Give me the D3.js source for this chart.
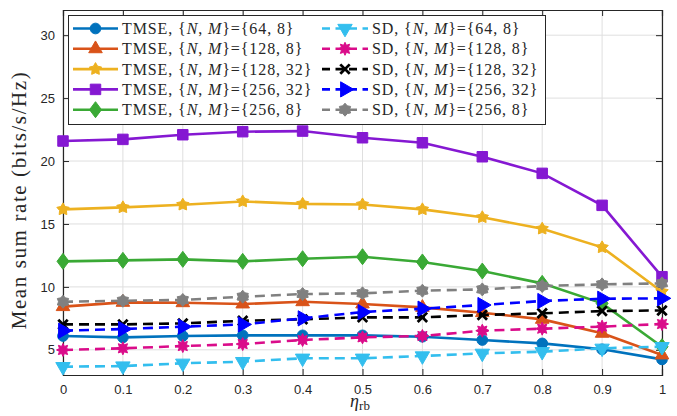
<!DOCTYPE html>
<html>
<head>
<meta charset="utf-8">
<script src="https://cdn.jsdelivr.net/npm/d3@7"></script>
<style>
  body { margin: 0; background: #fff; }
  text { fill: #262626; }
</style>
</head>
<body>
<svg id="chart" width="677" height="416"></svg>
<script>
// x values (eta_rb)
var eta = [0, 0.1, 0.2, 0.3, 0.4, 0.5, 0.6, 0.7, 0.8, 0.9, 1];
var xTicks = [0, 0.1, 0.2, 0.3, 0.4, 0.5, 0.6, 0.7, 0.8, 0.9, 1];
var yTicks = [5, 10, 15, 20, 25, 30];

// series values
var tmse64_8   = [6.10, 5.99, 6.10, 6.15, 6.15, 6.15, 6.04, 5.78, 5.51, 5.04, 4.24];
var tmse128_8  = [8.43, 8.77, 8.74, 8.64, 8.82, 8.64, 8.37, 7.95, 7.42, 6.31, 4.59];
var tmse128_32 = [16.16, 16.32, 16.53, 16.79, 16.60, 16.55, 16.16, 15.53, 14.62, 13.14, 9.62];
var tmse256_32 = [21.59, 21.72, 22.09, 22.33, 22.38, 21.85, 21.45, 20.34, 19.02, 16.48, 10.81];
var tmse256_8  = [12.03, 12.11, 12.19, 12.03, 12.24, 12.40, 11.98, 11.26, 10.28, 8.69, 5.25];
var sd64_8     = [3.66, 3.71, 3.93, 4.06, 4.33, 4.33, 4.51, 4.72, 4.85, 5.12, 5.25];
var sd128_8    = [4.99, 5.12, 5.30, 5.46, 5.78, 5.99, 6.10, 6.52, 6.68, 6.84, 7.05];
var sd128_32   = [7.02, 7.02, 7.10, 7.31, 7.42, 7.58, 7.58, 7.77, 7.90, 8.08, 8.13];
var sd256_32   = [6.52, 6.65, 6.84, 7.02, 7.50, 8.00, 8.27, 8.56, 8.88, 9.06, 9.09];
var sd256_8    = [8.82, 8.90, 8.96, 9.22, 9.43, 9.49, 9.70, 9.80, 10.07, 10.20, 10.28];

var series = [
  { name: "TMSE", nm: "64, 8",   vals: tmse64_8,   color: "#0072BD", dash: null, mk: "circle" },
  { name: "TMSE", nm: "128, 8",  vals: tmse128_8,  color: "#D95319", dash: null, mk: "triUp" },
  { name: "TMSE", nm: "128, 32", vals: tmse128_32, color: "#EDB120", dash: null, mk: "star" },
  { name: "TMSE", nm: "256, 32", vals: tmse256_32, color: "#8518D2", dash: null, mk: "square" },
  { name: "TMSE", nm: "256, 8",  vals: tmse256_8,  color: "#3AA935", dash: null, mk: "diamond" },
  { name: "SD", nm: "64, 8",   vals: sd64_8,   color: "#33BEEE", dash: "10,6", mk: "triDown" },
  { name: "SD", nm: "128, 8",  vals: sd128_8,  color: "#DA0C8A", dash: "10,6", mk: "flower" },
  { name: "SD", nm: "128, 32", vals: sd128_32, color: "#000000", dash: "10,6", mk: "times" },
  { name: "SD", nm: "256, 32", vals: sd256_32, color: "#0000FF", dash: "10,6", mk: "triRight" },
  { name: "SD", nm: "256, 8",  vals: sd256_8,  color: "#808080", dash: "10,6", mk: "hexagram" }
];

var margin = { top: 10, right: 15, bottom: 41, left: 63 };
var width = 677 - margin.left - margin.right,
    height = 416 - margin.top - margin.bottom;

var svg = d3.select("#chart");
var g = svg.append("g").attr("transform", "translate(" + margin.left + "," + margin.top + ")");

var x = d3.scaleLinear().domain([0, 1]).range([0, width]);
var y = d3.scaleLinear().domain([3, 32]).range([height, 0]);

// grid
g.append("g").selectAll("line").data(xTicks).enter().append("line")
  .attr("x1", d => x(d)).attr("x2", d => x(d)).attr("y1", 0).attr("y2", height)
  .style("stroke", "#dfdfdf").style("stroke-width", 1);
g.append("g").selectAll("line").data(yTicks).enter().append("line")
  .attr("y1", d => y(d)).attr("y2", d => y(d)).attr("x1", 0).attr("x2", width)
  .style("stroke", "#dfdfdf").style("stroke-width", 1);

// axes
var xAxis = g.append("g").attr("transform", "translate(0," + height + ")")
  .call(d3.axisBottom(x).tickValues(xTicks).tickSize(-6).tickPadding(10).tickFormat(d => d === 0 || d === 1 ? d : d.toFixed(1)));
var yAxis = g.append("g")
  .call(d3.axisLeft(y).tickValues(yTicks).tickSize(-6).tickPadding(8));
var xTop = g.append("g").call(d3.axisTop(x).tickValues(xTicks).tickSize(-6).tickFormat(""));
var yRight = g.append("g").attr("transform", "translate(" + width + ",0)")
  .call(d3.axisRight(y).tickValues(yTicks).tickSize(-6).tickFormat(""));
[xAxis, yAxis, xTop, yRight].forEach(a => {
  a.select(".domain").style("stroke", "#262626").style("stroke-width", 1.2);
  a.selectAll(".tick line").style("stroke", "#262626");
  a.selectAll("text").style("font-family", "Liberation Sans, Arial, sans-serif")
    .style("font-size", "13px").style("fill", "#262626");
});

// marker shapes
function starPath(n, ro, ri) {
  var p = "";
  for (var k = 0; k < 2 * n; k++) {
    var a = k * Math.PI / n - Math.PI / 2, r = (k % 2 === 0) ? ro : ri;
    p += (k === 0 ? "M" : "L") + (r * Math.cos(a)).toFixed(2) + "," + (r * Math.sin(a)).toFixed(2);
  }
  return p + "Z";
}
function markerPath(type) {
  switch (type) {
    case "circle": return d3.symbol(d3.symbolCircle, 90)();
    case "triUp": return d3.symbol(d3.symbolTriangle, 80)();
    case "triDown": return d3.symbol(d3.symbolTriangle, 90)();
    case "triRight": return d3.symbol(d3.symbolTriangle, 100)();
    case "star": return starPath(5, 6.5, 3.6);
    case "square": return d3.symbol(d3.symbolSquare, 110)();
    case "diamond": return "M0,-8L6,0L0,8L-6,0Z";
    case "times": return d3.symbol(d3.symbolTimes, 60)();
    case "flower": return starPath(8, 6.5, 3.8);
    case "hexagram": return starPath(6, 6.5, 4.5);
  }
}
function markerRot(type) {
  if (type === "triDown") return " rotate(180)";
  if (type === "triRight") return " rotate(90)";
  return "";
}
function drawMarker(sel, s, cx, cy) {
  var m = sel.append("path")
    .attr("d", markerPath(s.mk))
    .attr("transform", "translate(" + cx + "," + cy + ")" + markerRot(s.mk));
  if (s.mk === "times") {
    m.style("fill", "none").style("stroke", s.color).style("stroke-width", 2.8);
  } else {
    m.style("fill", s.color).style("stroke", s.color).style("stroke-width", 1);
  }
}

var line = d3.line().x((d, i) => x(eta[i])).y(d => y(d));

series.forEach(function (s) {
  var sg = g.append("g");
  sg.append("path").datum(s.vals)
    .attr("d", line)
    .style("fill", "none")
    .style("stroke", s.color)
    .style("stroke-width", 2.6)
    .style("stroke-dasharray", s.dash);
  s.vals.forEach((v, i) => drawMarker(sg, s, x(eta[i]), y(v)));
});

// legend
var lg = svg.append("g");
lg.append("rect").attr("x", 68.5).attr("y", 15.5).attr("width", 477).attr("height", 109)
  .style("fill", "#fff").style("stroke", "#262626").style("stroke-width", 1);
var rowY = [28.5, 48.8, 69.1, 89.4, 109.7];
series.forEach(function (s, i) {
  var col = i < 5 ? 0 : 1, r = i % 5;
  var cy = rowY[r];
  var x0 = col === 0 ? 73 : 322, x1 = col === 0 ? 118 : 368;
  lg.append("line").attr("x1", x0).attr("x2", x1).attr("y1", cy).attr("y2", cy)
    .style("stroke", s.color).style("stroke-width", 2.6)
    .style("stroke-dasharray", s.dash ? "8,5.5" : null);
  drawMarker(lg, s, (x0 + x1) / 2, cy);
  var t = lg.append("text").attr("x", x1 + 4).attr("y", cy + 5.5)
    .style("font-family", "Liberation Serif, DejaVu Serif, serif").style("font-size", "16px")
    .style("letter-spacing", "0.9px");
  t.append("tspan").text(s.name + ", {");
  t.append("tspan").style("font-style", "italic").text("N");
  t.append("tspan").text(", ");
  t.append("tspan").style("font-style", "italic").text("M");
  t.append("tspan").text("}={" + s.nm + "}");
});

// axis labels
svg.append("text")
  .attr("transform", "translate(26,200) rotate(-90)")
  .attr("text-anchor", "middle")
  .style("font-family", "Liberation Serif, DejaVu Serif, serif").style("font-size", "21px")
  .style("letter-spacing", "1.6px")
  .text("Mean sum rate (bits/s/Hz)");
var xl = svg.append("text")
  .attr("x", 360).attr("y", 407)
  .attr("text-anchor", "middle")
  .style("font-family", "Liberation Serif, DejaVu Serif, serif").style("font-size", "18px");
xl.append("tspan").style("font-style", "italic").text("η");
xl.append("tspan").attr("dy", 3).style("font-size", "13px").text("rb");
</script>
</body>
</html>
